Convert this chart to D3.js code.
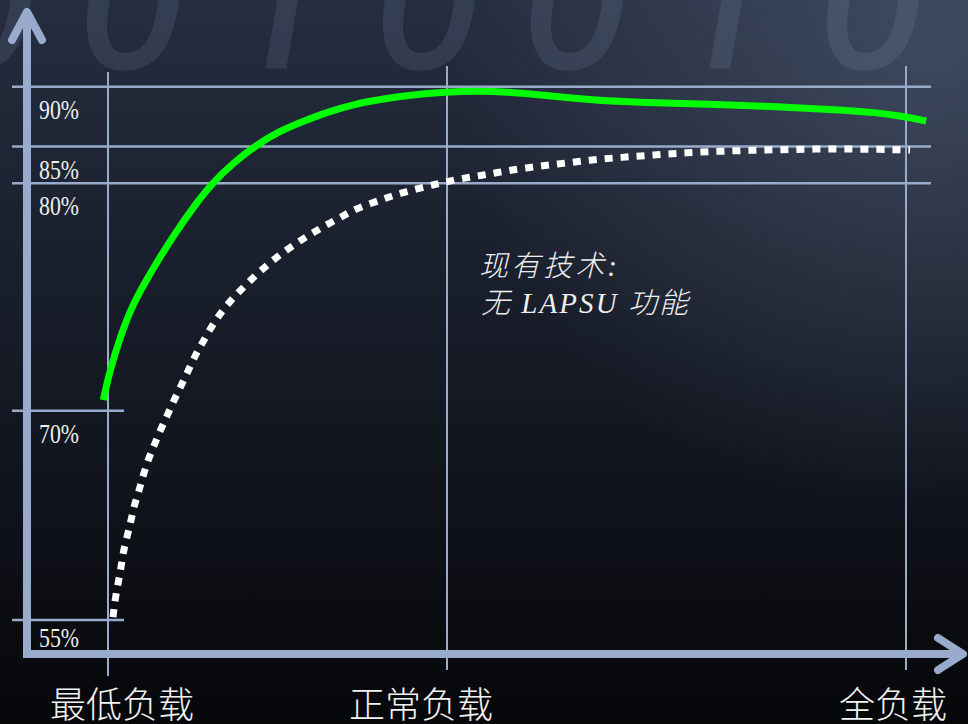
<!DOCTYPE html>
<html>
<head>
<meta charset="utf-8">
<script src="https://cdn.jsdelivr.net/npm/d3@7"></script>
<style>
  html, body { margin: 0; padding: 0; background: #0b0d12; }
  svg { display: block; }
</style>
</head>
<body>
<svg id="chart" width="968" height="724"></svg>
<script>
// ---------------- data ----------------
const loadLevels = [0, 50, 100];
const loadLabels = ["最低负载", "正常负载", "全负载"];
const effTicks = [90, 85, 80, 70, 55];
const effTickLabels = ["90%", "85%", "80%", "70%", "55%"];
// with LAPSU (green solid) : [load, efficiency %]
const lapsuSeries = [
  [-0.7, 70.47], [0.3, 71.79], [1.8, 73.25], [3.5, 74.57], [5.5, 75.67], [7.7, 76.77],
  [9.9, 77.80], [12.3, 78.83], [15.3, 80.0], [18.7, 82.93], [21.7, 85.04], [25.1, 86.24],
  [28.6, 87.07], [32.5, 87.91], [36.4, 88.55], [40.1, 88.93], [44.5, 89.31], [50.0, 89.56],
  [53.1, 89.64], [56.5, 89.58], [60.2, 89.31], [63.9, 89.03], [67.5, 88.80], [71.2, 88.70],
  [78.5, 88.53], [85.9, 88.33], [93.3, 88.05], [96.9, 87.83], [99.9, 87.49], [102.2, 87.13]
];
// existing technology, no LAPSU (white dotted)
const legacySeries = [
  [0.74, 55.21], [1.03, 56.43], [1.47, 57.58], [1.92, 58.73], [2.21, 59.80], [2.80, 60.95],
  [3.39, 62.10], [3.83, 63.17], [4.57, 64.25], [5.16, 65.32], [5.90, 66.47], [6.78, 67.48],
  [7.67, 68.55], [8.70, 69.62], [9.63, 70.40], [10.72, 71.06], [11.70, 71.67], [12.68, 72.33],
  [13.82, 72.93], [15.04, 73.58], [16.27, 74.16], [17.74, 74.72], [19.32, 75.23], [20.94, 75.72],
  [22.67, 76.19], [24.48, 76.66], [26.36, 77.07], [28.32, 77.48], [30.28, 77.83], [32.34, 78.20],
  [34.46, 78.52], [36.18, 78.83], [38.79, 79.12], [41.0, 79.35], [43.22, 79.57], [45.58, 79.76],
  [47.94, 79.93], [50.0, 80.24], [51.74, 80.68], [53.49, 81.03], [55.23, 81.40], [58.61, 82.12],
  [62.09, 82.62], [65.58, 83.17], [69.06, 83.53], [72.55, 83.85], [76.03, 84.16], [79.52, 84.35],
  [83.01, 84.48], [86.49, 84.57], [89.98, 84.66], [93.46, 84.66], [96.95, 84.62], [100.44, 84.52]
];
const annotationLines = ["现有技术:", "无 LAPSU 功能"];
const bgDigits = "0010010";

// ---------------- layout ----------------
const W = 968, H = 724;
const axisColor = "#98abcd";
const svg = d3.select("#chart");

const x = d3.scaleLinear().domain([0, 50, 100]).range([108, 447, 906]);
const y = d3.scaleLinear().domain([55, 70, 80, 85, 90]).range([620, 410.7, 183.3, 146.5, 86.7]);

const axisX = 27, axisY = 654;

// background
const defs = svg.append("defs");
const lg = defs.append("linearGradient").attr("id", "bg").attr("x1", 0).attr("y1", 0).attr("x2", 0).attr("y2", 1);
lg.append("stop").attr("offset", "0%").attr("stop-color", "#252d3f");
lg.append("stop").attr("offset", "45%").attr("stop-color", "#171c28");
lg.append("stop").attr("offset", "100%").attr("stop-color", "#060709");
const rg = defs.append("radialGradient").attr("id", "glow")
  .attr("cx", 930).attr("cy", 40).attr("r", 480).attr("gradientUnits", "userSpaceOnUse");
rg.append("stop").attr("offset", "0%").attr("stop-color", "#5a6780").attr("stop-opacity", 0.5);
rg.append("stop").attr("offset", "100%").attr("stop-color", "#5a6780").attr("stop-opacity", 0);

svg.append("rect").attr("width", W).attr("height", H).attr("fill", "url(#bg)");
svg.append("rect").attr("width", W).attr("height", H).attr("fill", "url(#glow)");

// big faint digits
svg.append("g").selectAll("text").data(bgDigits.split(""))
  .join("text")
  .attr("x", (d, i) => -70 + i * 148)
  .attr("y", 67)
  .attr("font-family", "Roboto, 'Open Sans', sans-serif")
  .attr("font-style", "italic")
  .attr("font-size", 200)
  .attr("fill", "#9db0d4")
  .attr("stroke", "#9db0d4")
  .attr("stroke-width", 3)
  .attr("opacity", 0.13)
  .text(d => d);

// horizontal gridlines
svg.append("g").selectAll("line").data(effTicks)
  .join("line")
  .attr("x1", 12)
  .attr("x2", d => d >= 80 ? 931 : 124)
  .attr("y1", d => y(d)).attr("y2", d => y(d))
  .attr("stroke", axisColor).attr("stroke-width", 2.5);

// vertical load lines
svg.append("g").selectAll("line").data(loadLevels)
  .join("line")
  .attr("x1", d => x(d)).attr("x2", d => x(d))
  .attr("y1", (d, i) => i === 0 ? 72 : 66)
  .attr("y2", (d, i) => i === 0 ? 676 : 670)
  .attr("stroke", axisColor).attr("stroke-width", 2);

// y tick labels
svg.append("g").selectAll("text").data(effTicks)
  .join("text")
  .attr("x", 39)
  .attr("y", d => Math.min(y(d) + 32, 647))
  .attr("font-family", "Liberation Serif, DejaVu Serif, serif")
  .attr("font-size", 27)
  .attr("textLength", 40)
  .attr("lengthAdjust", "spacingAndGlyphs")
  .attr("fill", "#eeeeee")
  .text((d, i) => effTickLabels[i]);

// axes
svg.append("line").attr("x1", axisX).attr("x2", axisX).attr("y1", 14).attr("y2", axisY + 4)
  .attr("stroke", axisColor).attr("stroke-width", 8);
svg.append("line").attr("x1", axisX - 4).attr("x2", 960).attr("y1", axisY).attr("y2", axisY)
  .attr("stroke", axisColor).attr("stroke-width", 8);
svg.append("path").attr("d", `M12,40 L${axisX},12 L42,40`)
  .attr("fill", "none").attr("stroke", axisColor).attr("stroke-width", 8)
  .attr("stroke-linecap", "round").attr("stroke-linejoin", "round");
svg.append("path").attr("d", `M938,638 L963,${axisY} L938,670`)
  .attr("fill", "none").attr("stroke", axisColor).attr("stroke-width", 8)
  .attr("stroke-linecap", "round").attr("stroke-linejoin", "round");

// x labels
const xLabelShift = [14, -26, -13];
svg.append("g").selectAll("text").data(loadLevels)
  .join("text")
  .attr("x", (d, i) => x(d) + xLabelShift[i])
  .attr("y", 718)
  .attr("text-anchor", "middle")
  .attr("font-family", "Noto Sans CJK SC, sans-serif")
  .attr("font-weight", 300)
  .attr("font-size", 36)
  .attr("fill", "#f2f2f2")
  .text((d, i) => loadLabels[i]);

// curves
const line = d3.line().x(d => x(d[0])).y(d => y(d[1])).curve(d3.curveBasis);

svg.append("path").datum(legacySeries)
  .attr("d", line)
  .attr("fill", "none").attr("stroke", "#ffffff").attr("stroke-width", 7)
  .attr("stroke-dasharray", "8 8");

svg.append("path").datum(lapsuSeries)
  .attr("d", line)
  .attr("fill", "none").attr("stroke", "#00ff00").attr("stroke-width", 7);

// annotation
const annLen = [138, 207];
svg.append("g").selectAll("text").data(annotationLines)
  .join("text")
  .attr("x", (d, i) => i === 0 ? 479 : 481)
  .attr("y", (d, i) => 276 + i * 37)
  .attr("font-family", "Liberation Serif, Noto Sans CJK SC, serif")
  .attr("font-style", "italic")
  .attr("font-weight", 300)
  .attr("font-size", 29)
  .attr("textLength", (d, i) => annLen[i])
  .attr("lengthAdjust", "spacing")
  .attr("fill", "#eeeeee")
  .attr("xml:space", "preserve")
  .style("white-space", "pre")
  .text(d => d);
</script>
</body>
</html>
